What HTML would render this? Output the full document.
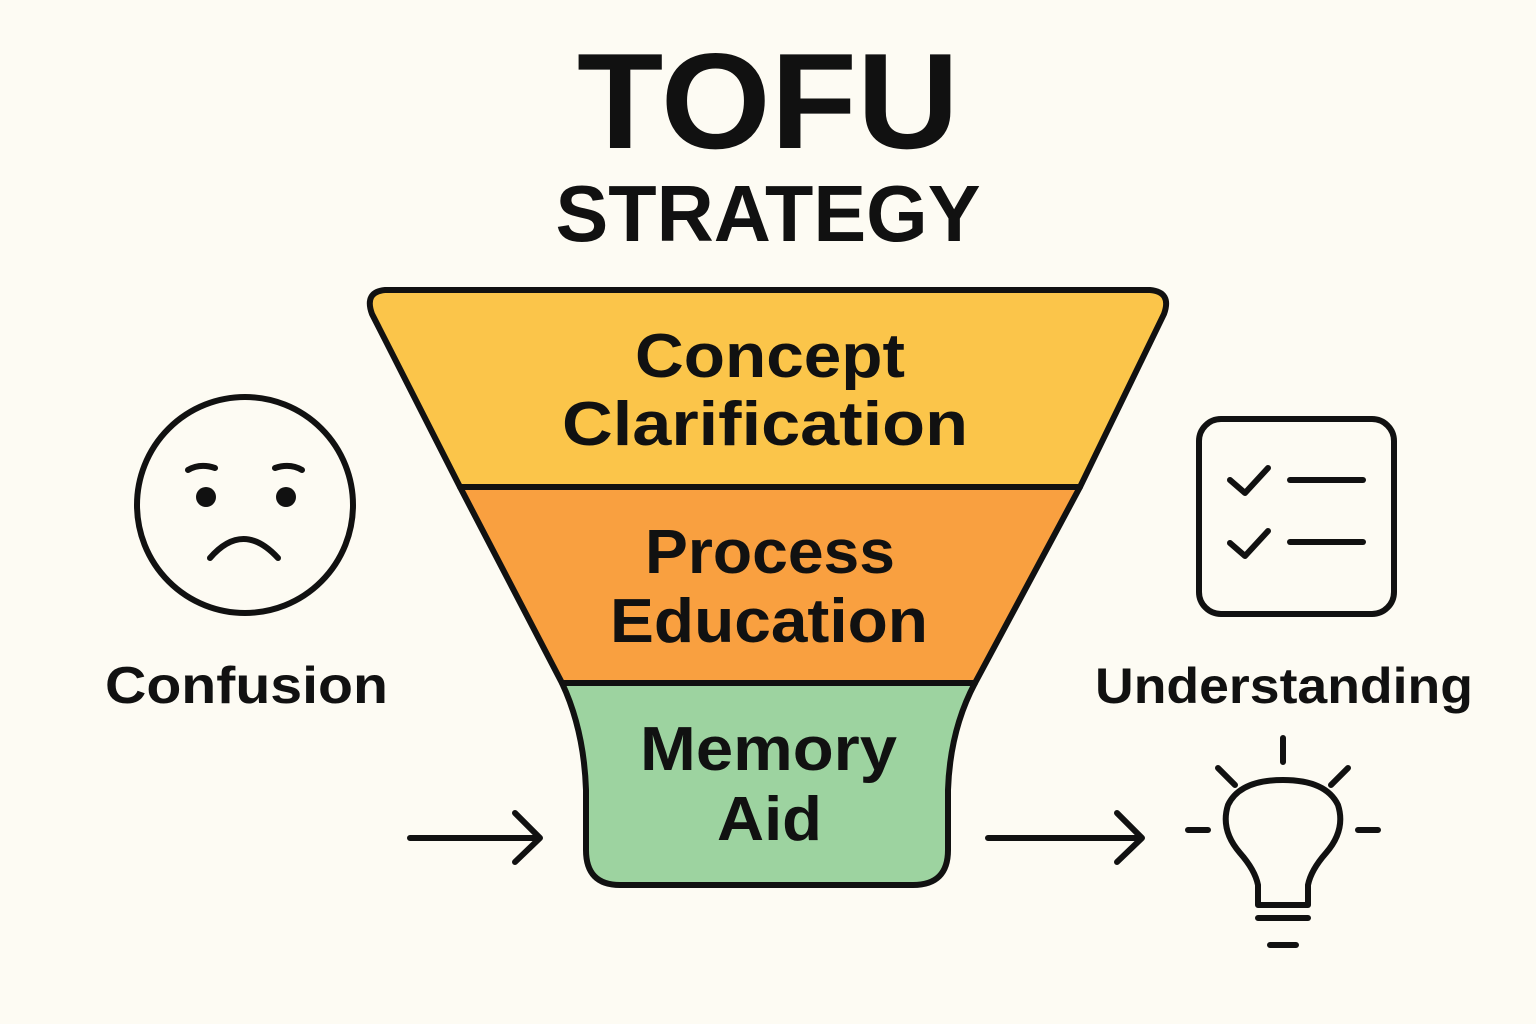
<!DOCTYPE html>
<html><head><meta charset="utf-8"><style>
html,body{margin:0;padding:0;background:#FDFBF3;}
svg{display:block}
text{font-family:"Liberation Sans",sans-serif;font-weight:bold;fill:#111;}
</style></head><body>
<svg width="1536" height="1024" viewBox="0 0 1536 1024" xmlns="http://www.w3.org/2000/svg">
<rect width="1536" height="1024" fill="#FDFBF3"/>
<text x="768" y="148" font-size="136" text-anchor="middle" textLength="382" lengthAdjust="spacingAndGlyphs">TOFU</text>
<text x="768" y="241" font-size="80" text-anchor="middle" textLength="425" lengthAdjust="spacingAndGlyphs">STRATEGY</text>
<g stroke="#111" stroke-width="6" stroke-linejoin="round">
<path d="M385,290 L1150,290 Q1172,292 1164,314 L1080,487 L460,487 L372,314 Q364,292 385,290 Z" fill="#FBC54A"/>
<path d="M460,487 L1080,487 L975,683 L562,683 Z" fill="#F9A040"/>
<path d="M562,683 L975,683 Q950,730 948,790 L948,850 Q948,885 913,885 L620,885 Q586,885 586,850 L586,790 Q584,730 562,683 Z" fill="#9DD3A0"/>
</g>
<g font-size="62" lengthAdjust="spacingAndGlyphs">
<text x="635" y="377" textLength="270" lengthAdjust="spacingAndGlyphs">Concept</text>
<text x="562" y="445" textLength="406" lengthAdjust="spacingAndGlyphs">Clarification</text>
<text x="645" y="573" textLength="250" lengthAdjust="spacingAndGlyphs">Process</text>
<text x="610" y="642" textLength="318" lengthAdjust="spacingAndGlyphs">Education</text>
<text x="640" y="770" textLength="257" lengthAdjust="spacingAndGlyphs">Memory</text>
<text x="717" y="840" textLength="105" lengthAdjust="spacingAndGlyphs">Aid</text>
</g>
<text x="105" y="703" font-size="52" textLength="283" lengthAdjust="spacingAndGlyphs">Confusion</text>
<text x="1095" y="703" font-size="50" textLength="378" lengthAdjust="spacingAndGlyphs">Understanding</text>
<g fill="none" stroke="#111" stroke-width="6" stroke-linecap="round" stroke-linejoin="round">
<circle cx="245" cy="505" r="108"/>
<path d="M188,470 Q200,463 215,468"/>
<path d="M275,468 Q290,463 302,470"/>
<path d="M210,558 Q243,520 278,558"/>
<rect x="1199" y="419" width="195" height="195" rx="22"/>
<path d="M1230,480 L1245,493 L1268,468"/>
<path d="M1230,543 L1245,556 L1268,531"/>
<path d="M1290,480 L1363,480"/>
<path d="M1290,542 L1363,542"/>
<path d="M410,838 L538,838 M515,813 L540,838 L515,862"/>
<path d="M988,838 L1140,838 M1117,813 L1142,838 L1117,862"/>
<path d="M1283,738 L1283,762 M1218,768 L1235,785 M1348,768 L1331,785 M1188,830 L1208,830 M1358,830 L1378,830"/>
<path d="M1258,905 L1258,885 Q1255,870 1240,853 Q1220,830 1228,805 Q1240,780 1283,780 Q1326,780 1338,805 Q1346,830 1326,853 Q1311,870 1308,885 L1308,905 Z"/>
<path d="M1258,918 L1308,918 M1270,945 L1296,945"/>
</g>
<circle cx="206" cy="497" r="10" fill="#111"/>
<circle cx="286" cy="497" r="10" fill="#111"/>
</svg>
</body></html>
